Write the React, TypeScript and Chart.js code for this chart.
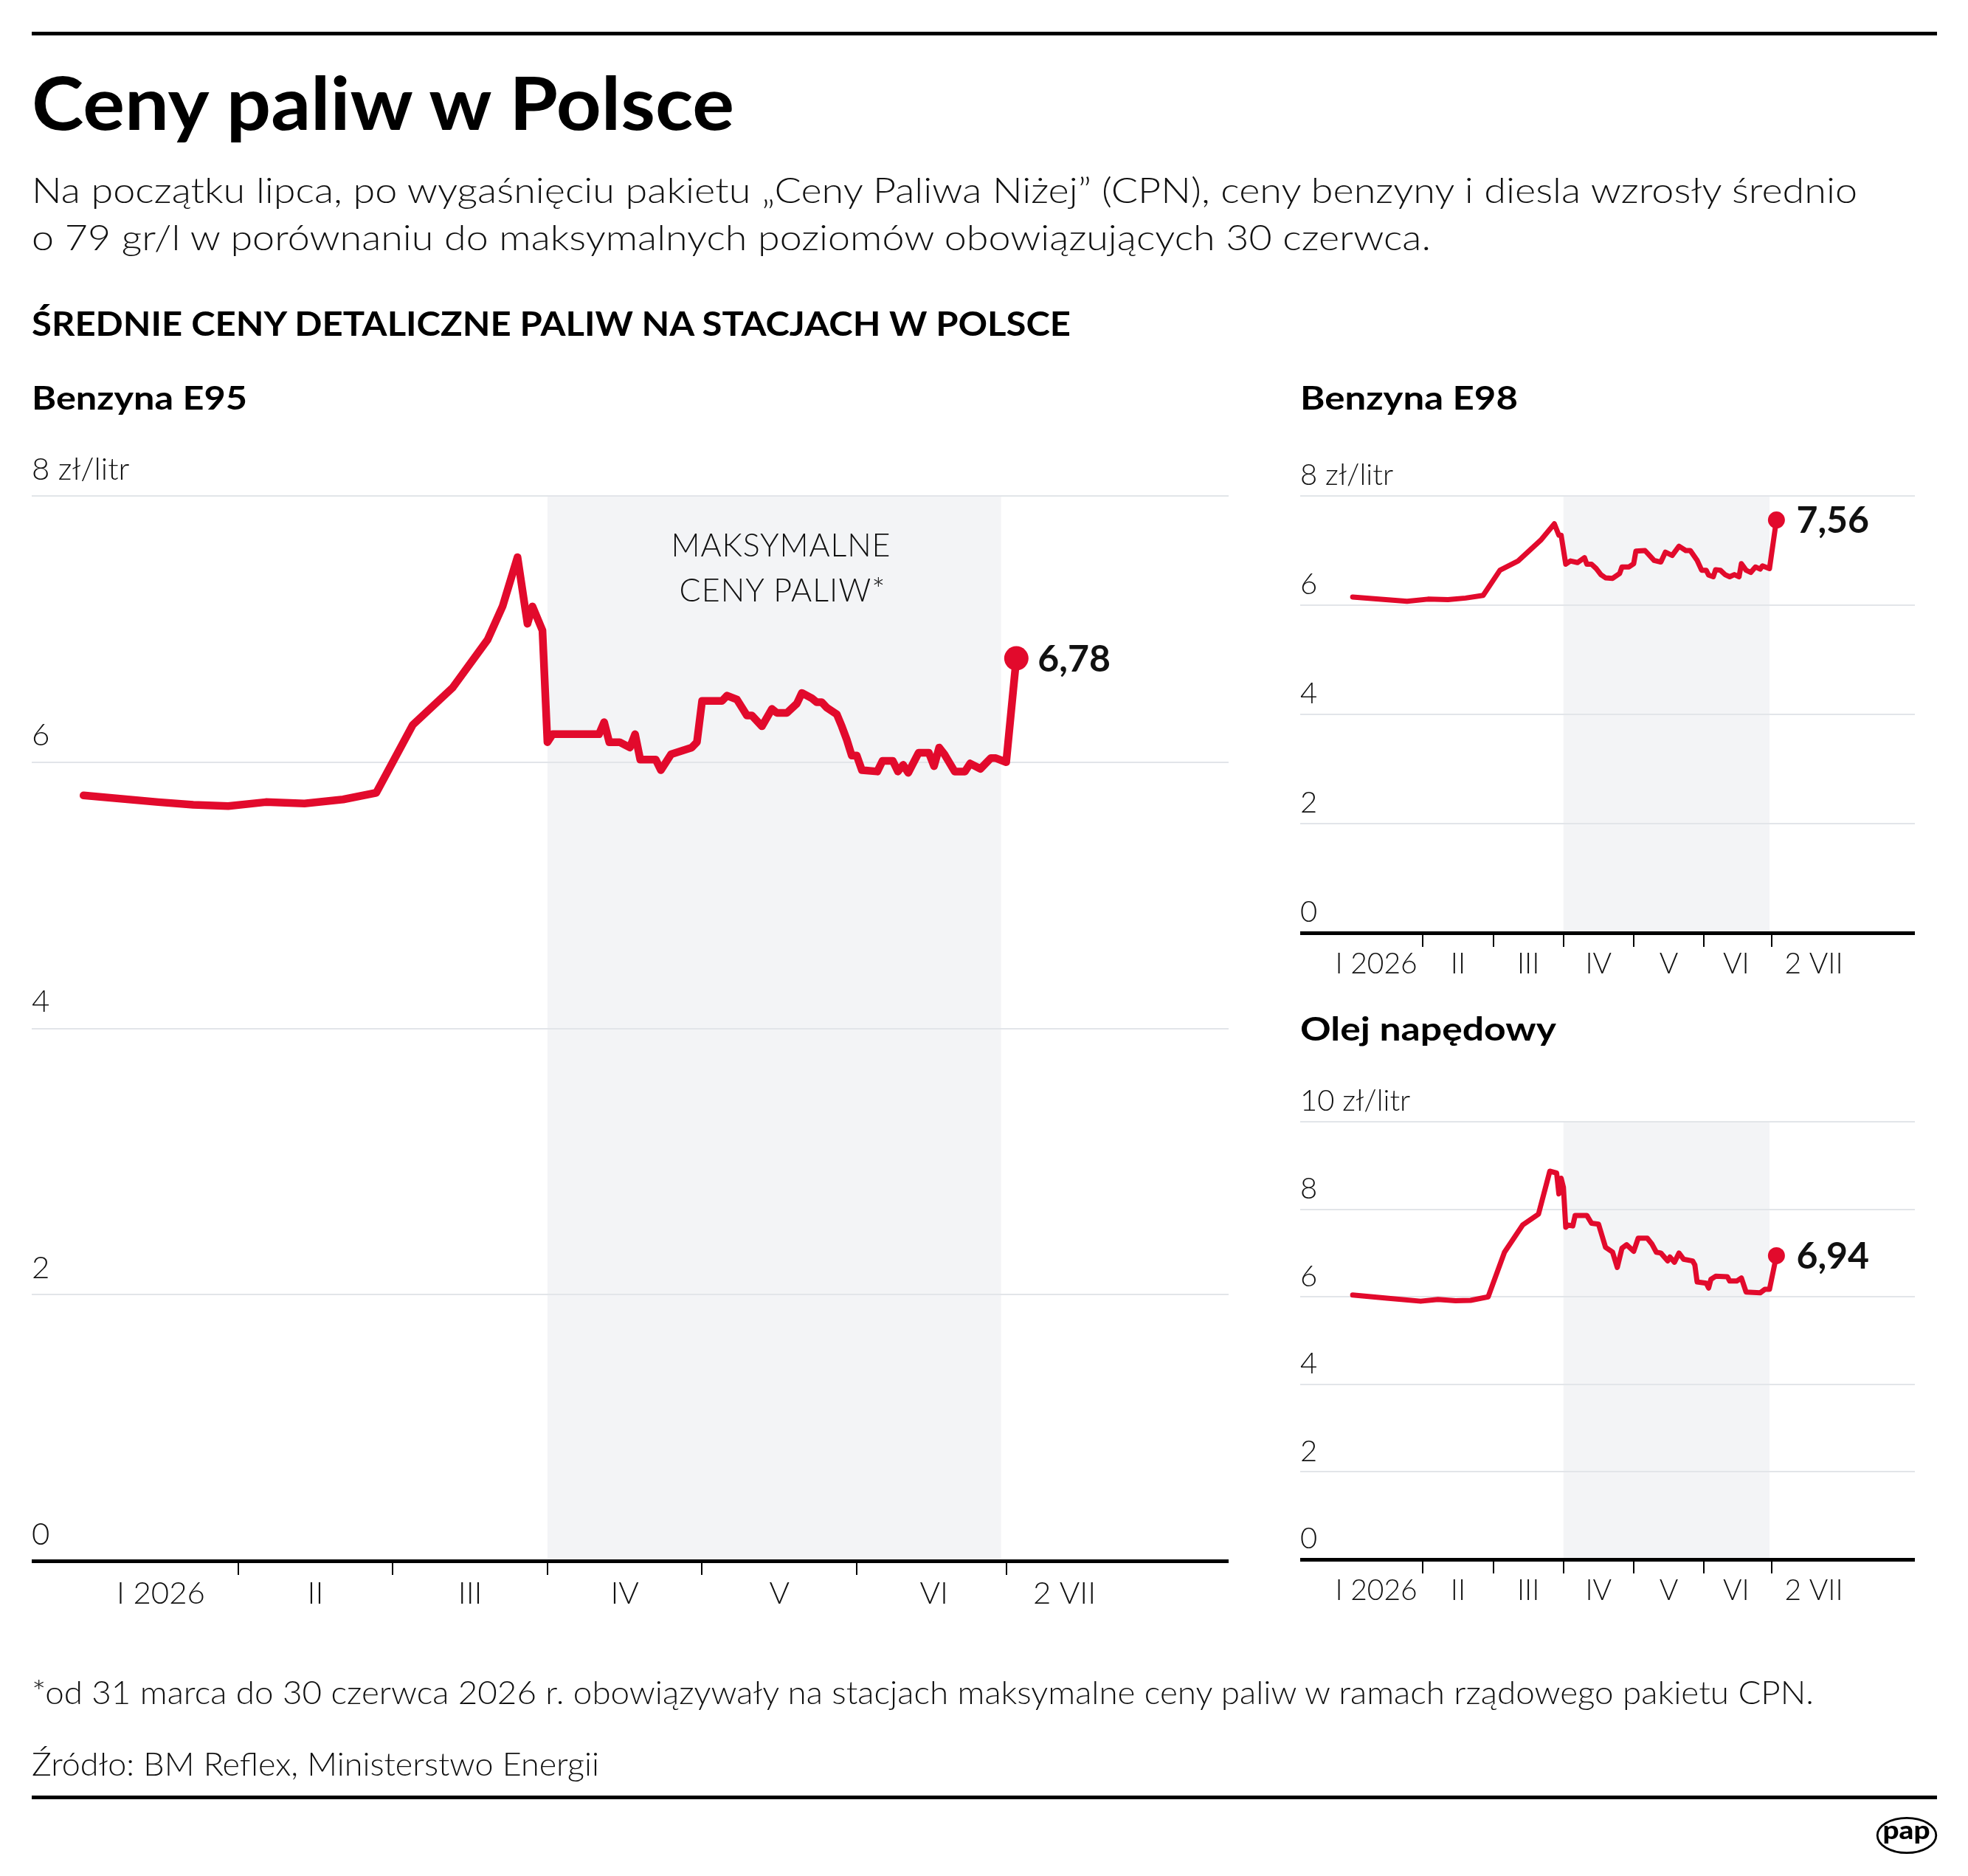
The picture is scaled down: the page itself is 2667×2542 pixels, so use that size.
import React, { useEffect, useRef } from 'react';
import { Chart, registerables } from 'chart.js';

Chart.register(...registerables);

const YEAR = 2026;

// ---------- DATA ----------
const e95Dates = ['01-01','01-16','01-23','01-30','02-06','02-13','02-20','02-26','03-05','03-13','03-20','03-23','03-26','03-28','03-29','03-31','04-01','04-02','04-11','04-12','04-13','04-15','04-17','04-18','04-19','04-22','04-23','04-25','04-29','04-30','05-01','05-05','05-06','05-08','05-09','05-10','05-11','05-13','05-15','05-16','05-18','05-20','05-21','05-23','05-24','05-25','05-26','05-28','05-29','05-30','05-31','06-01','06-02','06-05','06-06','06-08','06-09','06-10','06-11','06-13','06-15','06-16','06-17','06-18','06-20','06-22','06-23','06-25','06-27','06-28','06-30','07-02'];
const e95Values = [5.75,5.70,5.68,5.67,5.70,5.69,5.72,5.77,6.28,6.56,6.92,7.17,7.54,7.04,7.17,6.99,6.15,6.21,6.21,6.30,6.15,6.15,6.11,6.21,6.02,6.02,5.94,6.06,6.11,6.15,6.46,6.46,6.50,6.47,6.41,6.35,6.35,6.27,6.40,6.37,6.37,6.44,6.52,6.48,6.45,6.45,6.41,6.36,6.27,6.17,6.05,6.05,5.94,5.93,6.01,6.01,5.93,5.98,5.92,6.07,6.07,5.97,6.11,6.06,5.93,5.93,5.99,5.95,6.03,6.03,6.00,6.78];

const e98Dates = ['01-01','01-25','02-03','02-11','02-18','02-25','03-04','03-12','03-22','03-28','03-30','03-31','04-02','04-04','04-07','04-10','04-11','04-13','04-15','04-17','04-19','04-22','04-25','04-26','04-29','05-01','05-02','05-06','05-08','05-10','05-13','05-15','05-18','05-21','05-24','05-26','05-29','05-31','06-02','06-03','06-05','06-06','06-08','06-10','06-12','06-14','06-16','06-17','06-19','06-21','06-23','06-25','06-26','06-29','07-02'];
const e98Values = [6.15,6.07,6.11,6.10,6.13,6.18,6.64,6.81,7.19,7.49,7.28,7.28,6.75,6.81,6.78,6.87,6.75,6.75,6.67,6.56,6.50,6.49,6.58,6.70,6.70,6.76,6.99,7.00,6.91,6.82,6.79,6.97,6.91,7.08,7.00,7.00,6.82,6.64,6.64,6.55,6.52,6.65,6.64,6.56,6.52,6.56,6.52,6.76,6.64,6.60,6.70,6.66,6.72,6.67,7.56];

const onDates = ['01-01','01-16','01-31','02-07','02-14','02-20','02-27','03-06','03-14','03-21','03-26','03-29','03-30','03-31','04-01','04-02','04-03','04-05','04-06','04-11','04-13','04-16','04-19','04-22','04-24','04-26','04-28','05-01','05-03','05-07','05-09','05-11','05-13','05-16','05-17','05-19','05-21','05-23','05-27','05-28','05-29','06-02','06-03','06-04','06-06','06-11','06-12','06-15','06-17','06-19','06-25','06-27','06-29','07-02'];
const onValues = [6.04,5.97,5.90,5.94,5.91,5.92,6.00,7.02,7.64,7.89,8.87,8.83,8.35,8.71,8.50,7.59,7.64,7.62,7.86,7.86,7.68,7.66,7.13,7.02,6.67,7.11,7.19,7.04,7.34,7.34,7.21,7.02,7.00,6.82,6.91,6.79,7.00,6.86,6.82,6.73,6.34,6.31,6.20,6.40,6.47,6.46,6.36,6.36,6.43,6.11,6.09,6.17,6.17,6.94];

const monthBoundaries = ['02-01','03-01','04-01','05-01','06-01','06-30'];
const xTickLabels = ['I 2026','II','III','IV','V','VI','2 VII'];
const cappedStart = '04-01';
const cappedEnd = '06-29';
const ticks8 = [0, 2, 4, 6, 8];
const ticks10 = [0, 2, 4, 6, 8, 10];

// ---------- STYLE ----------
const RED = '#e20a2c';
const GRID = '#e2e5e9';
const SHADE = '#f3f4f6';
const INK = '#111111';
const FONT = "Lato, 'Open Sans', sans-serif";

function monthPos(md: string): number {
  const [m, d] = md.split('-').map(Number);
  const dim = new Date(YEAR, m, 0).getDate();
  return (m - 1) + (d - 1) / dim;
}

type Spec = {
  left: number; top: number; w: number; h: number; padTop: number;
  xMin: number; xMax: number; labelPos: number[];
  yMax: number; yTicks: number[];
  dates: string[]; values: number[];
  lineWidth: number; dotRadius: number; labelGap: number; labelSize: number;
  xFont: number; yFont: number; xPad: number; yLabelOffset: number; axisH: number;
};

const specE95: Spec = {
  left: 43, top: 600, w: 1622, h: 1600, padTop: 72,
  xMin: -0.335, xMax: 7.405, labelPos: [0.5, 1.5, 2.5, 3.5, 4.5, 5.5, 6.344],
  yMax: 8, yTicks: ticks8, dates: e95Dates, values: e95Values,
  lineWidth: 10.5, dotRadius: 16.5, labelGap: 29, labelSize: 50,
  xFont: 42, yFont: 42, xPad: 19.5, yLabelOffset: -36, axisH: 85,
};
const specE98: Spec = {
  left: 1762, top: 600, w: 833, h: 749, padTop: 72,
  xMin: -0.747, xMax: 8.003, labelPos: [0.335, 1.5, 2.5, 3.5, 4.5, 5.46, 6.564],
  yMax: 8, yTicks: ticks8, dates: e98Dates, values: e98Values,
  lineWidth: 7, dotRadius: 11.5, labelGap: 27, labelSize: 50,
  xFont: 39, yFont: 40, xPad: 19.5, yLabelOffset: -27.5, axisH: 85,
};
const specON: Spec = {
  left: 1762, top: 1450, w: 833, h: 748, padTop: 70,
  xMin: -0.747, xMax: 8.003, labelPos: [0.335, 1.5, 2.5, 3.5, 4.5, 5.46, 6.564],
  yMax: 10, yTicks: ticks10, dates: onDates, values: onValues,
  lineWidth: 7, dotRadius: 11.5, labelGap: 27, labelSize: 50,
  xFont: 39, yFont: 40, xPad: 19.5, yLabelOffset: -27.5, axisH: 85,
};

function buildChart(canvas: HTMLCanvasElement, spec: Spec) {
  const pts = spec.dates.map((d, i) => ({ x: monthPos(d), y: spec.values[i] }));
  const last = pts.length - 1;
  const lastLabel = spec.values[last].toFixed(2).replace('.', ',');

  const bandPlugin = {
    id: 'band',
    beforeDraw(chart: any) {
      const { ctx, chartArea, scales } = chart;
      const x1 = scales.x.getPixelForValue(monthPos(cappedStart));
      const x2 = scales.x.getPixelForValue(monthPos(cappedEnd));
      ctx.save();
      ctx.fillStyle = SHADE;
      ctx.fillRect(x1, chartArea.top, x2 - x1, chartArea.bottom - chartArea.top);
      ctx.restore();
    },
  };
  const tickPlugin = {
    id: 'monthTicks',
    afterDraw(chart: any) {
      const { ctx, chartArea, scales } = chart;
      ctx.save();
      ctx.strokeStyle = '#000';
      ctx.lineWidth = 2;
      monthBoundaries.forEach((d) => {
        const x = Math.round(scales.x.getPixelForValue(monthPos(d)));
        ctx.beginPath();
        ctx.moveTo(x, chartArea.bottom);
        ctx.lineTo(x, chartArea.bottom + 19);
        ctx.stroke();
      });
      ctx.restore();
    },
  };
  const valuePlugin = {
    id: 'valueLabel',
    afterDatasetsDraw(chart: any) {
      const el = chart.getDatasetMeta(0).data[last];
      if (!el) return;
      const { ctx } = chart;
      ctx.save();
      ctx.fillStyle = INK;
      ctx.font = `700 ${spec.labelSize}px ${FONT}`;
      ctx.textBaseline = 'alphabetic';
      ctx.textAlign = 'left';
      ctx.fillText(lastLabel, el.x + spec.labelGap, el.y + 17.5);
      ctx.restore();
    },
  };

  return new Chart(canvas, {
    type: 'line',
    data: {
      datasets: [{
        data: pts,
        borderColor: RED,
        backgroundColor: RED,
        borderWidth: spec.lineWidth,
        borderJoinStyle: 'round',
        borderCapStyle: 'round',
        tension: 0,
        pointRadius: (c: any) => (c.dataIndex === last ? spec.dotRadius : 0),
        pointBackgroundColor: RED,
        pointBorderWidth: 0,
        pointHoverRadius: 0,
        fill: false,
      }],
    },
    options: {
      responsive: false,
      animation: false,
      devicePixelRatio: 1,
      events: [],
      layout: { autoPadding: false, padding: { top: spec.padTop, left: 0, right: 0, bottom: 0 } },
      plugins: { legend: { display: false }, tooltip: { enabled: false } },
      scales: {
        x: {
          type: 'linear',
          min: spec.xMin,
          max: spec.xMax,
          afterBuildTicks: (s: any) => { s.ticks = spec.labelPos.map((v) => ({ value: v })); },
          afterFit: (s: any) => { s.height = spec.axisH; s.paddingLeft = 0; s.paddingRight = 0; },
          ticks: {
            autoSkip: false, maxRotation: 0, minRotation: 0,
            padding: spec.xPad, color: INK,
            font: { family: FONT, size: spec.xFont, weight: '300' },
            callback: (_v: any, i: number) => xTickLabels[i],
          },
          grid: { display: true, drawOnChartArea: false, drawTicks: false },
          border: { display: true, color: '#000', width: 5 },
        },
        y: {
          type: 'linear',
          min: 0,
          max: spec.yMax,
          afterBuildTicks: (s: any) => { s.ticks = spec.yTicks.map((v) => ({ value: v })); },
          afterFit: (s: any) => { s.width = 0; s.paddingTop = 0; s.paddingBottom = 0; },
          ticks: {
            mirror: true, padding: 0, labelOffset: spec.yLabelOffset, crossAlign: 'near',
            color: INK,
            font: { family: FONT, size: spec.yFont, weight: '300' },
            callback: (v: any) => (v === spec.yMax ? `${v} zł/litr` : String(v)),
          },
          grid: {
            color: (c: any) => (c.tick && c.tick.value === 0 ? 'rgba(0,0,0,0)' : GRID),
            lineWidth: 2,
            drawTicks: false,
          },
          border: { display: false },
        },
      },
    } as any,
    plugins: [bandPlugin, tickPlugin, valuePlugin],
  } as any);
}

function FuelChart({ spec }: { spec: Spec }) {
  const ref = useRef<HTMLCanvasElement>(null);
  useEffect(() => {
    if (!ref.current) return;
    const chart = buildChart(ref.current, spec);
    return () => chart.destroy();
  }, [spec]);
  return (
    <canvas
      ref={ref}
      width={spec.w}
      height={spec.h}
      style={{ position: 'absolute', left: spec.left, top: spec.top, width: spec.w, height: spec.h }}
    />
  );
}

export default function App() {
  useEffect(() => {
    document.body.style.margin = '0';
    document.body.style.background = '#fff';
  }, []);

  const T = (props: any) => (
    <text fontFamily={FONT} fill={INK} lengthAdjust="spacingAndGlyphs" {...props} />
  );

  return (
    <div style={{ position: 'relative', width: 2667, height: 2542, background: '#fff', overflow: 'hidden' }}>
      <FuelChart spec={specE95} />
      <FuelChart spec={specE98} />
      <FuelChart spec={specON} />
      <svg width={2667} height={2542} style={{ position: 'absolute', left: 0, top: 0, pointerEvents: 'none' }}>
        <rect x={43} y={43} width={2582} height={5} fill="#000" />
        <T x={43} y={176} fontSize={100} fontWeight={700} fill="#000" textLength={952}>Ceny paliw w Polsce</T>
        <T x={43} y={275} fontSize={48} fontWeight={300} textLength={2474}>Na początku lipca, po wygaśnięciu pakietu „Ceny Paliwa Niżej” (CPN), ceny benzyny i diesla wzrosły średnio</T>
        <T x={43} y={339} fontSize={48} fontWeight={300} textLength={1896}>o 79 gr/l w porównaniu do maksymalnych poziomów obowiązujących 30 czerwca.</T>
        <T x={43} y={455} fontSize={45} fontWeight={700} fill="#000" textLength={1408}>ŚREDNIE CENY DETALICZNE PALIW NA STACJACH W POLSCE</T>
        <T x={43} y={555} fontSize={43} fontWeight={700} fill="#000" textLength={292}>Benzyna E95</T>
        <T x={1762} y={555} fontSize={43} fontWeight={700} fill="#000" textLength={295}>Benzyna E98</T>
        <T x={1762} y={1410} fontSize={43} fontWeight={700} fill="#000" textLength={347}>Olej napędowy</T>
        <T x={1058} y={754} fontSize={43} fontWeight={300} textAnchor="middle" lengthAdjust="spacing" textLength={297}>MAKSYMALNE</T>
        <T x={1060} y={815} fontSize={43} fontWeight={300} textAnchor="middle" lengthAdjust="spacing" textLength={279}>CENY PALIW*</T>
        <T x={43} y={2309} fontSize={44} fontWeight={300} textLength={2415}>*od 31 marca do 30 czerwca 2026 r. obowiązywały na stacjach maksymalne ceny paliw w ramach rządowego pakietu CPN.</T>
        <T x={43} y={2406} fontSize={44} fontWeight={300} textLength={769}>Źródło: BM Reflex, Ministerstwo Energii</T>
        <rect x={43} y={2433} width={2582} height={5} fill="#000" />
        <ellipse cx={2584} cy={2487} rx={39.8} ry={23.7} fill="#fff" stroke="#000" strokeWidth={2.8} />
        <T x={2583.5} y={2492} fontSize={35} fontWeight={900} fill="#000" textAnchor="middle" textLength={64}>pap</T>
      </svg>
    </div>
  );
}
